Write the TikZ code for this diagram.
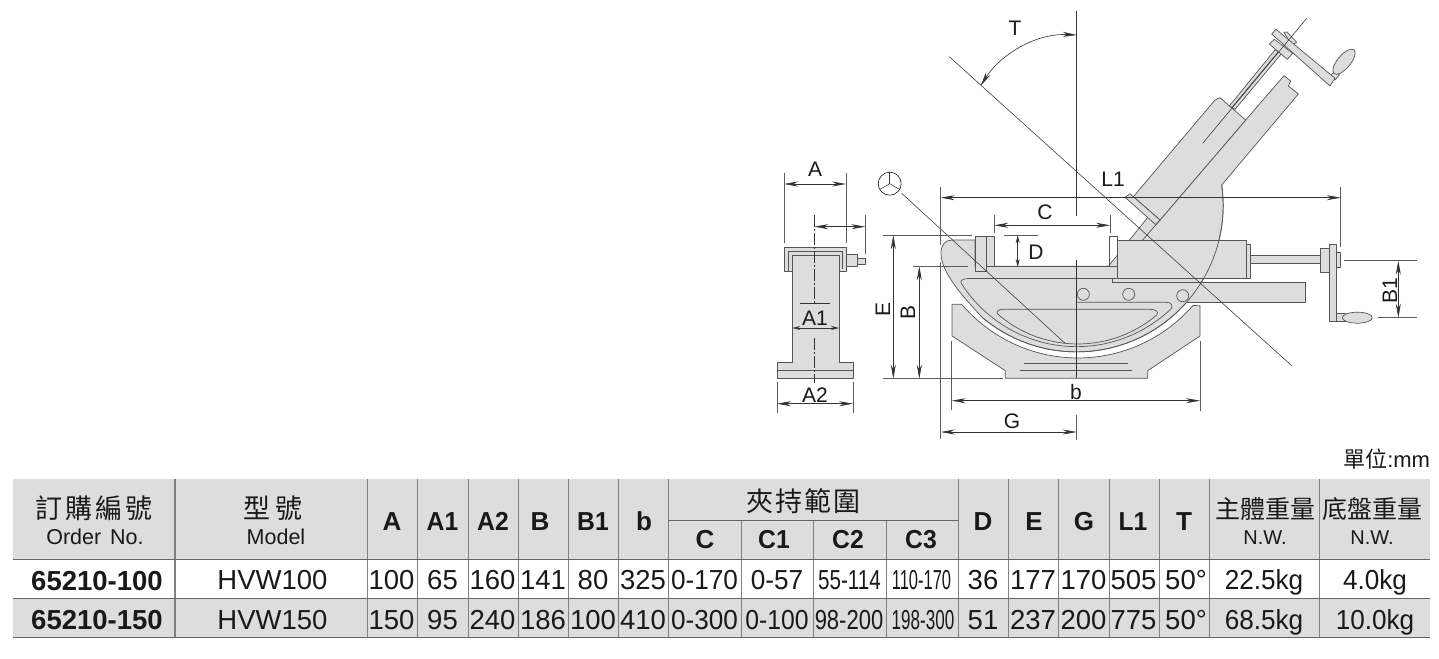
\documentclass[tikz,border=0pt]{standalone}
\usepackage{fontspec}
\usepackage{graphicx}
\setmainfont{Liberation Sans}
\newfontfamily\cjk{Noto Sans CJK TC}
\usetikzlibrary{arrows.meta}
\definecolor{gf}{HTML}{DDDDDD}
\definecolor{ol}{HTML}{555555}
\definecolor{dl}{HTML}{333333}
\definecolor{tl}{HTML}{808080}
\newcommand\nrw[1]{\scalebox{0.95}[1]{#1}}
\tikzset{
  x=1pt,y=-1pt,
  part/.style={fill=gf,draw=ol,line width=0.7pt,line join=round},
  edge/.style={draw=ol,line width=0.7pt},
  thinl/.style={draw=dl,line width=0.55pt},
  extl/.style={draw=dl!80,line width=0.6pt},
  dimb/.style={draw=dl,line width=0.7pt,{Stealth[length=14pt,width=5pt]}-{Stealth[length=14pt,width=5pt]}},
  dimm/.style={draw=dl,line width=0.7pt,{Stealth[length=8pt,width=4pt]}-{Stealth[length=8pt,width=4pt]}},
  tx/.style={anchor=base,inner sep=0pt,outer sep=0pt,text=black!90},
  lab/.style={tx,font=\fontsize{21}{23}\selectfont},
  num/.style={tx,font=\fontsize{27.5}{29}\selectfont},
  bnum/.style={tx,font=\fontsize{27.5}{29}\selectfont\bfseries},
  hd/.style={tx,font=\fontsize{26}{28}\selectfont\bfseries},
  sub/.style={tx,font=\fontsize{21.5}{24}\selectfont},
  cjkl/.style={tx,font=\fontsize{27}{30}\selectfont\cjk},
  cjks/.style={tx,font=\fontsize{25}{27}\selectfont\cjk},
  tv/.style={draw=tl,line width=0.8pt},
  th/.style={draw=ol!90,line width=1pt},
}
\begin{document}
\begin{tikzpicture}
\useasboundingbox (0,0) rectangle (1439,658);

% ---------- left end view ----------
\path[part] (777,362.7) -- (792.3,362.7) -- (792.3,255) -- (839,255) -- (839,362.7) -- (853,362.7) -- (853,378.3) -- (777,378.3) -- cycle;
\draw[edge] (777,370) -- (853,370);
\path[part] (784,247.3) -- (846,247.3) -- (846,271.3) -- (839,271.3) -- (839,255) -- (792.3,255) -- (792.3,271.3) -- (784,271.3) -- cycle;
\draw[edge] (788,271.3) -- (788,251.7) -- (842.7,251.7) -- (842.7,269);
\path[part] (846,254.3) rectangle (857.7,266.7);
\path[part] (857.7,258) rectangle (865.3,264);
\draw[thinl,dash pattern=on 12pt off 2pt on 2pt off 2pt] (814.3,215) -- (814.3,303.7);
\draw[thinl,dash pattern=on 12pt off 2pt on 2pt off 2pt] (814.3,338) -- (814.3,383);
\draw[extl] (784,173.3) -- (784,243);
\draw[extl] (846,173.3) -- (846,243);
\draw[extl] (865.3,215) -- (865.3,254);
\draw[extl] (777,381.7) -- (777,413);
\draw[extl] (853,381.7) -- (853,413);
\draw[thinl] (800,303.7) -- (830,303.7);
\draw[dimb] (784,184) -- (846,184);
\draw[dimb] (814.3,226.7) -- (865.3,226.7);
\draw[dimm] (792.3,328) -- (839,328);
\draw[dimb] (777,403.7) -- (853,403.7);
\node[lab] (lA) at (815,176) {A};
\node[lab] (lA1) at (815,325.5) {A1};
\node[lab] (lA2) at (815,402) {A2};

% ---------- main view: base ----------
\path[part] (952,304.3) -- (961.7,304.3) arc[start angle=139.6,end angle=41,radius=152.5] -- (1200,305.7) -- (1200,336) -- (1147.7,370.7) -- (1147.7,378.3) -- (1005.3,378.3) -- (1005.3,370.7) -- (952,336) -- cycle;
\draw[edge] (1024,363.7) -- (1128,363.7);
\draw[edge] (1020,370.3) -- (1132,370.3);

% ---------- vise body ----------
\path[fill=white] (1109.3,236.7) rectangle (1117.3,266.7);
\path[part] (1221.7,185) arc[start angle=-8,end angle=130,radius=146.5]
   .. controls (962,296) and (941,272) .. (941,253.3) .. controls (941,245) and (945,240) .. (952,240) -- (975,240) -- (975,266.3) -- (1108.3,266.3) -- (1151.7,212.5) -- (1160,220) -- (1245.7,120)
   -- (1284,75.7) -- (1290.7,81) -- (1288.3,86) -- (1298.3,94) -- cycle;
\draw[edge] (1109.3,266.7) -- (1109.3,236.7) -- (1117.3,236.7) -- (1117.3,266.7);
% tilted upper body
\path[part] (1133.3,196.7) -- (1215,100) -- (1220,97.7) -- (1245.7,120) -- (1160,220) -- cycle;
\path[part] (1125,197.3) -- (1130,193.8) -- (1160,220) -- (1155.5,224.5) -- cycle;
\draw[edge] (1160,220) -- (1117.3,269.3);
% tilted screw and crank
\path[part] (1229.3,106) -- (1275,50) -- (1281.7,53.3) -- (1235,109.3) -- cycle;
\draw[edge] (1232,107.3) -- (1278.3,51.7);
\path[part] (1284,32.3) -- (1287,32) -- (1296.7,42.3) -- (1291.7,45) -- cycle;
\path[part] (1335,70.7) -- (1339.3,75) -- (1335,80) -- (1330,76) -- cycle;
\path[part,shift={(1344,61.7)},rotate=50] (0,0) ellipse [x radius=15.5,y radius=6.5];
\path[part] (1271.7,34) -- (1276,29.3) -- (1335,78.3) -- (1330,86) -- cycle;
\path[part] (1269.3,44) -- (1274.3,39.3) -- (1292.7,53.3) -- (1287.3,59.3) -- cycle;
% horizontal carriage and bed
\path[fill=gf] (1112.3,282.3) rectangle (1305.7,302.3);
\draw[edge] (1112.3,282.3) -- (1305.7,282.3) -- (1305.7,302.3) -- (1186,302.3);
\path[part] (1117.3,240) rectangle (1246.7,278.3);
\path[part] (1246.7,244.3) rectangle (1250.7,278.3);
\draw[edge] (1112.3,278.3) -- (1112.3,282.3);
\draw[edge] (1112.3,278.5) -- (1117.3,278.5);
\path[part] (975,236.3) rectangle (986.7,271.3);
\path[part] (986.7,236.3) rectangle (994.3,266.3);
\draw[edge] (994.3,266.3) -- (1117.3,266.3) -- (1117.3,278.3);
\draw[edge] (1221.7,185) arc[start angle=-8,end angle=130,radius=146.5];
% side screw and crank
\path[part] (1250.7,255.7) rectangle (1320.7,263.3);
\path[part] (1336.7,252) rectangle (1340.7,267.3);
\path[part] (1320.7,248.3) rectangle (1329.3,272.7);
\path[part] (1336.7,313.3) rectangle (1345,321);
\path[part] (1329.3,244.3) rectangle (1336.7,321);
\path[part] (1357.3,317.7) ellipse [x radius=15,y radius=5.5];
% slots
\draw[edge] (966.7,278.8) -- (1112.3,278.8);
\draw[edge] (966.7,278.8) .. controls (962,278.8) and (959.5,281) .. (961.7,284)
   arc[start angle=147.2,end angle=45.9,radius=136.7]
   .. controls (1173,302) and (1168,302.3) .. (1163,302.3) -- (1076.7,302.3);
\draw[edge] (1003,309.3) -- (1150,309.3) .. controls (1156,309.3) and (1159,312) .. (1156.7,315)
   arc[start angle=49.7,end angle=130.3,radius=122.1]
   .. controls (995,312) and (998,309.3) .. (1003,309.3);
\draw[edge] (1083.3,294.3) circle [radius=6];
\draw[edge] (1128.7,294.3) circle [radius=6];
\draw[edge] (1182.7,295.7) circle [radius=6];

% ---------- centre and construction lines ----------
\draw[thinl] (1076.7,11) -- (1076.7,215.7);
\draw[thinl] (1076.7,260) -- (1076.7,378.3);
\draw[thinl] (949.3,56.7) -- (1291.7,365.7);
\draw[thinl] (1306.7,18.3) -- (1202.7,143.3);
\draw[thinl,draw=black,fill=white] (889.7,183.7) circle [radius=11.5];
\coordinate (sym) at (889.7,183.7);
\draw[thinl] (sym) -- ++(270:11.5);
\draw[thinl] (sym) -- ++(150:11.5);
\draw[thinl] (sym) -- ++(30:11.5);
\draw[thinl] (901.7,193.3) -- (1065,343.3);

% ---------- dimensions ----------
\draw[extl] (940.7,186.7) -- (940.7,245);
\draw[extl] (940.7,262) -- (940.7,439.3);
\draw[extl] (1340.7,187) -- (1340.7,247);
\draw[extl] (994.3,215) -- (994.3,233);
\draw[extl] (1110,215) -- (1110,233);
\draw[extl] (1004,235.3) -- (1038,235.3);
\draw[extl] (883.3,235.3) -- (971.7,235.3);
\draw[extl] (913,266.3) -- (968,266.3);
\draw[extl] (883.3,378.7) -- (1003.3,378.7);
\draw[extl] (951.7,340.7) -- (951.7,410);
\draw[extl] (1200,340.7) -- (1200,410.7);
\draw[extl] (1076.7,415) -- (1076.7,440);
\draw[extl] (1344.3,260.7) -- (1416.7,260.7);
\draw[extl] (1377.7,317.7) -- (1416.7,317.7);
\draw[dimb] (940.7,197.7) -- (1340.7,197.7);
\draw[dimb] (994.3,225.3) -- (1110,225.3);
\draw[dimm] (1017.7,235.3) -- (1017.7,267);
\draw[dimb] (893.3,235.3) -- (893.3,378.7);
\draw[dimb] (919.3,266.3) -- (919.3,378.7);
\draw[dimb] (951.7,400.7) -- (1200,400.7);
\draw[dimb] (940.7,432) -- (1076.7,432);
\draw[dimb] (1398.3,260.7) -- (1398.3,317.7);
\draw[draw=dl,line width=0.6pt,{Stealth[length=14pt,width=5pt]}-{Stealth[length=14pt,width=5pt]}] (1076.7,35) .. controls (1035,33) and (1000,55) .. (980.7,85.7);
\node[lab] (lT) at (1015,36) {T};
\node[lab] (lL1) at (1113,186) {L1};
\node[lab] (lC) at (1045,219) {C};
\node[lab] (lD) at (1036,259) {D};
\node[lab,rotate=90,anchor=center] (lE) at (883,309) {E};
\node[lab,rotate=90,anchor=center] (lB) at (908,312) {B};
\node[lab] (lb) at (1076,399.5) {b};
\node[lab] (lG) at (1012,428) {G};
\node[lab,rotate=90,anchor=center] (lB1) at (1390,291) {B1};

% ---------- table ----------
\path[fill=gf] (13.3,479) rectangle (1430,559);
\path[fill=gf] (13.3,598.3) rectangle (1430,637.3);
\foreach \xv in {367,417,468,518,568,618,668,958,1008,1058,1109,1159,1209,1319} {\draw[tv] (\xv,479) -- (\xv,637.3);}
\foreach \xv in {741,813,886} {\draw[tv] (\xv,520.5) -- (\xv,637.3);}
\draw[draw=tl,line width=1.3pt] (175,479) -- (175,637.3);
\draw[th,line width=0.8pt] (668,520.5) -- (958,520.5);
\draw[th] (13.3,559) -- (1430,559);
\draw[th] (13.3,598.3) -- (1430,598.3);
\draw[th] (13.3,637.3) -- (1430,637.3);

\node[tx,anchor=base east,font=\fontsize{22}{24}\selectfont] (unit) at (1430,467) {{\cjk 單位}:mm};
\node[cjkl] (h1) at (94,518) {訂\hspace{3pt}購\hspace{3pt}編\hspace{3pt}號};
\node[sub] (h1b) at (95,544) {Order\hspace{3pt} No.};
\node[cjkl] (h2) at (273,518) {型\hspace{6pt}號};
\node[sub] (h2b) at (276,544) {Model};
\node[hd] (hA) at (392,530) {A};
\node[hd] (hA1) at (442.5,530) {\nrw{A1}};
\node[hd] (hA2) at (493,530) {\nrw{A2}};
\node[hd] (hB) at (540,530) {B};
\node[hd] (hB1) at (593,530) {\nrw{B1}};
\node[hd] (hb) at (644,530) {b};
\node[cjkl] (hR) at (803,511) {夾\hspace{2pt}持\hspace{2pt}範\hspace{2pt}圍};
\node[hd] (hC) at (705,548) {C};
\node[hd] (hC1) at (774,548) {\nrw{C1}};
\node[hd] (hC2) at (848,548) {\nrw{C2}};
\node[hd] (hC3) at (921,548) {\nrw{C3}};
\node[hd] (hD) at (983,530) {D};
\node[hd] (hE) at (1034,530) {E};
\node[hd] (hG) at (1084,530) {G};
\node[hd] (hL1) at (1133,530) {\nrw{L1}};
\node[hd] (hT) at (1184,530) {T};
\node[cjks] (hW) at (1265,518) {主體重量};
\node[sub,font=\fontsize{20}{22}\selectfont] (hWb) at (1265,544) {N.W.};
\node[cjks] (hW2) at (1372.5,518) {底盤重量};
\node[sub,font=\fontsize{20}{22}\selectfont] (hW2b) at (1372,544) {N.W.};

\node[bnum] (a0) at (97,590) {65210-100};
\node[num] (a1) at (272.5,589.5) {HVW100};
\node[num] (a2) at (391.5,589.5) {100};
\node[num] (a3) at (442.5,589.5) {65};
\node[num] (a4) at (492.5,589.5) {160};
\node[num] (a5) at (543,589.5) {141};
\node[num] (a6) at (593,589.5) {80};
\node[num] (a7) at (643,589.5) {325};
\node[num] (a8) at (704.5,589.5) {\nrw{0-170}};
\node[num] (a9) at (777,589.5) {\nrw{0-57}};
\node[num] (a10) at (849.5,589.5) {\scalebox{0.75}[1]{55-114}};
\node[num] (a11) at (921.5,589.5) {\scalebox{0.60}[1]{110-170}};
\node[num] (a12) at (983,589.5) {36};
\node[num] (a13) at (1033,589.5) {177};
\node[num] (a14) at (1083.5,589.5) {170};
\node[num] (a15) at (1133.5,589.5) {505};
\node[num] (a16) at (1186,589.5) {50°};
\node[num] (a17) at (1264,589.5) {\nrw{22.5kg}};
\node[num] (a18) at (1375,589.5) {\nrw{4.0kg}};

\node[bnum] (b0) at (97,629.3) {65210-150};
\node[num] (b1) at (272.5,629) {HVW150};
\node[num] (b2) at (391.5,629) {150};
\node[num] (b3) at (442.5,629) {95};
\node[num] (b4) at (492.5,629) {240};
\node[num] (b5) at (543,629) {186};
\node[num] (b6) at (593,629) {100};
\node[num] (b7) at (643,629) {410};
\node[num] (b8) at (704.5,629) {\nrw{0-300}};
\node[num] (b9) at (777,629) {\scalebox{0.9}[1]{0-100}};
\node[num] (b10) at (849,629) {\scalebox{0.80}[1]{98-200}};
\node[num] (b11) at (923,629) {\scalebox{0.62}[1]{198-300}};
\node[num] (b12) at (983,629) {51};
\node[num] (b13) at (1033,629) {237};
\node[num] (b14) at (1083.5,629) {200};
\node[num] (b15) at (1133.5,629) {775};
\node[num] (b16) at (1186,629) {50°};
\node[num] (b17) at (1264,629) {\nrw{68.5kg}};
\node[num] (b18) at (1375,629) {\nrw{10.0kg}};
\end{tikzpicture}
\end{document}
